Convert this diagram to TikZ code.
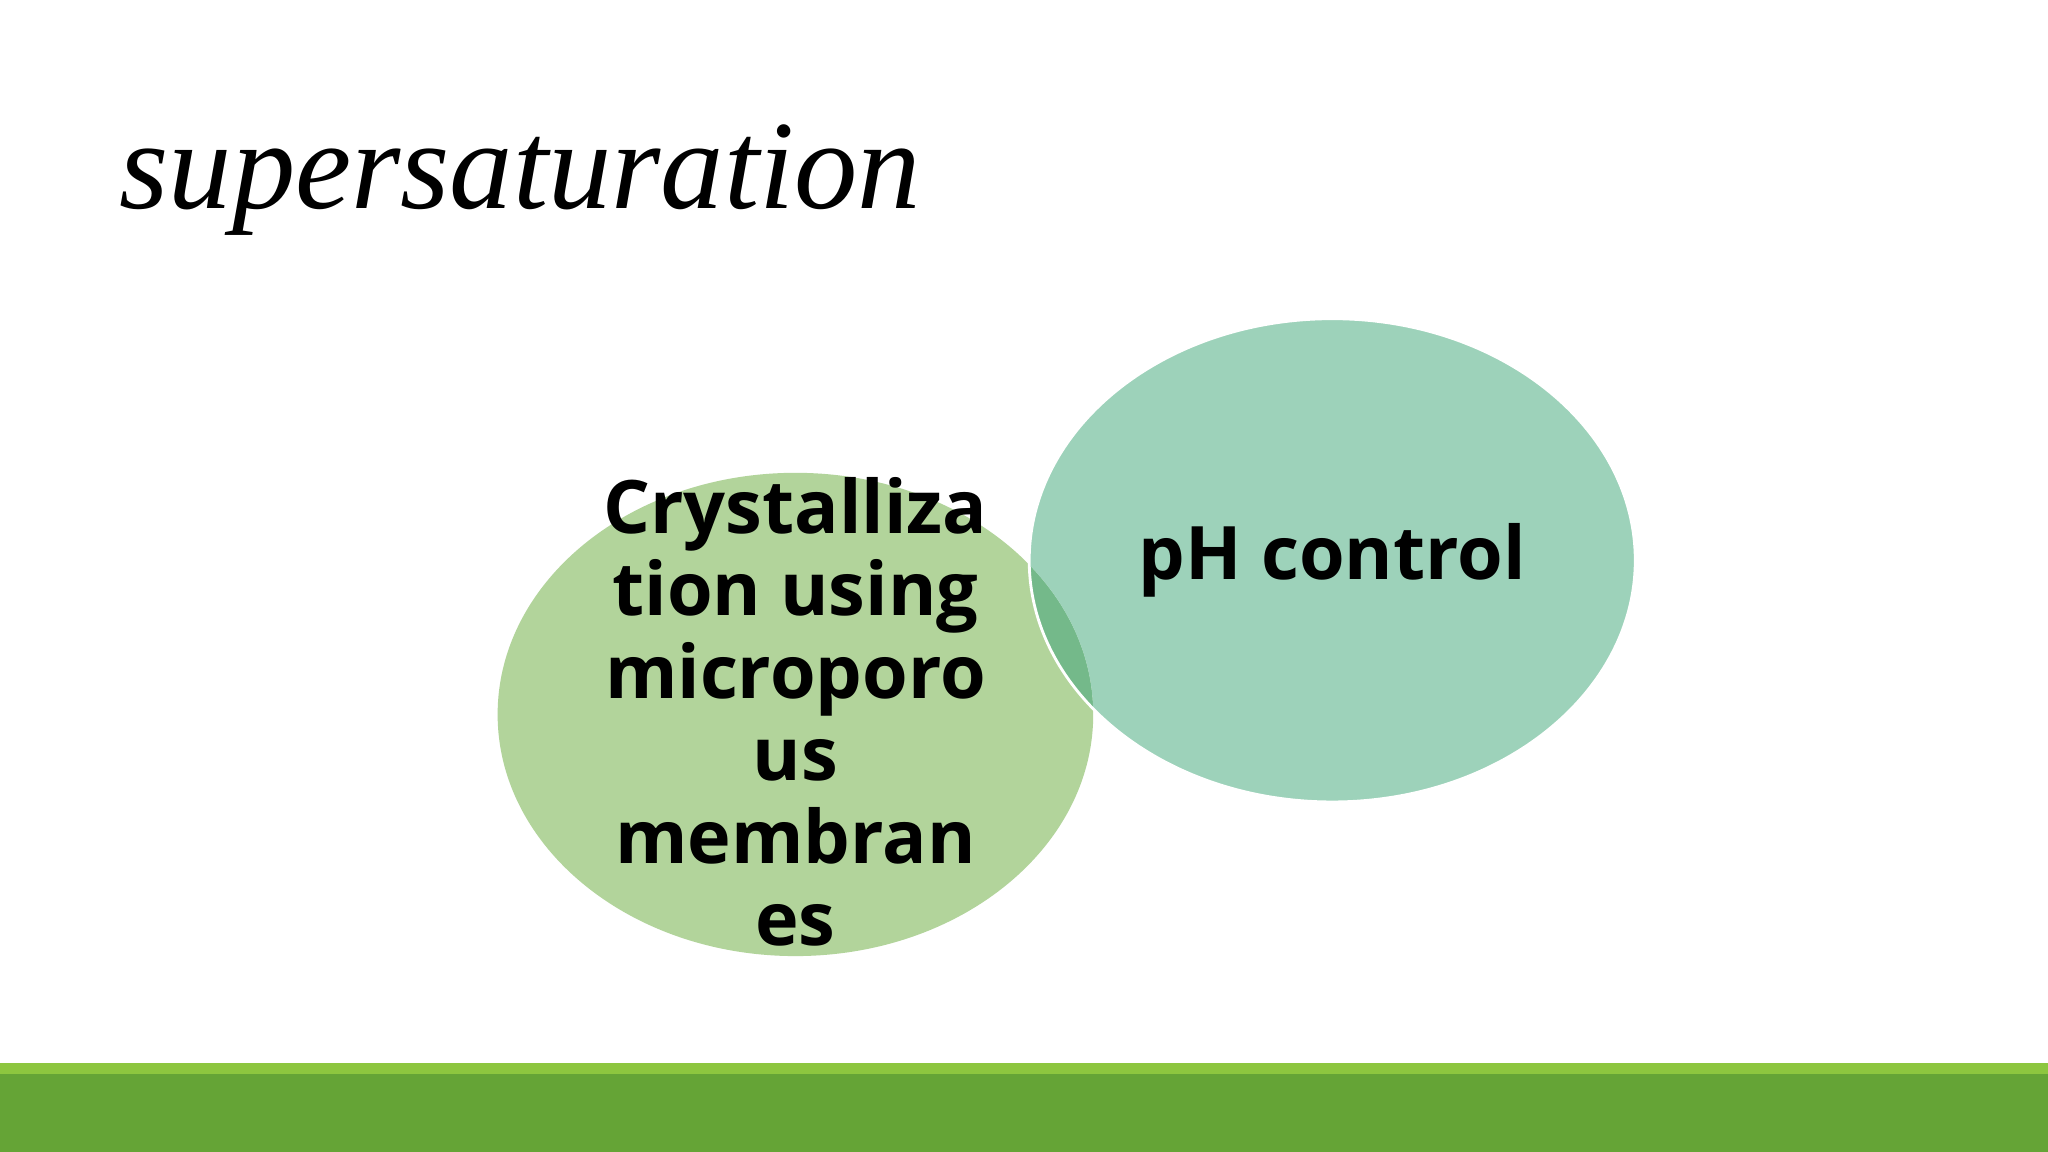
\documentclass[tikz,border=0pt]{standalone}
\usepackage{fontspec}
\setmainfont{Open Sans}
\newfontfamily\titlefont{Liberation Serif}
\begin{document}
\begin{tikzpicture}[x=0.01306cm,y=-0.01306cm,
  lbl/.style={font=\fontsize{21}{23.5}\selectfont\bfseries,align=center,text=black}]
\useasboundingbox (0,0) rectangle (1568,882);
\fill[white] (0,0) rectangle (1568,882);
\fill[fill={rgb,255:red,141;green,198;blue,63}] (0,814) rectangle (1568,823);
\fill[fill={rgb,255:red,101;green,164;blue,54}] (0,822) rectangle (1568,882);
\node[font=\titlefont\itshape\fontsize{36}{40}\selectfont,anchor=west] (title) at (82,138) {supersaturation};
\fill[fill={rgb,255:red,178;green,212;blue,155}] (609,547) ellipse [x radius=228,y radius=185];
\begin{scope}
\clip (609,547) ellipse [x radius=228,y radius=185];
\fill[fill={rgb,255:red,116;green,185;blue,138}] (1020,429) ellipse [x radius=232,y radius=185];
\end{scope}
\begin{scope}[even odd rule]
\clip (609,547) ellipse [x radius=228,y radius=185] (0,0) rectangle (1568,882);
\fill[fill={rgb,255:red,157;green,210;blue,186}] (1020,429) ellipse [x radius=232,y radius=185];
\end{scope}
\draw[white,line width=0.8pt] (1020,429) ellipse [x radius=232,y radius=185];
\node[lbl] (left) at (609,545) {Crystalliza\\tion using\\microporo\\us\\membran\\es};
\node[lbl] (right) at (1020,429) {pH control};
\end{tikzpicture}
\end{document}
